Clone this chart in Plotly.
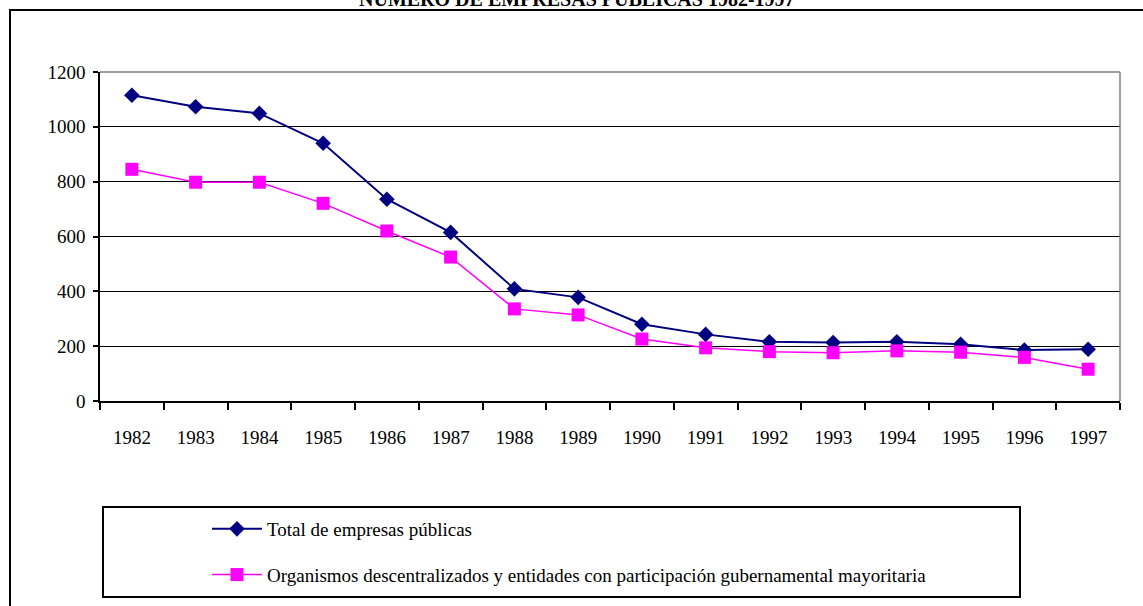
import plotly.graph_objects as go

years = ["1982", "1983", "1984", "1985", "1986", "1987", "1988", "1989",
         "1990", "1991", "1992", "1993", "1994", "1995", "1996", "1997"]
total_empresas = [1115, 1073, 1049, 940, 736, 615, 409, 378, 280, 243, 216, 213, 216, 207, 186, 189]
organismos = [845, 798, 798, 721, 620, 525, 336, 314, 226, 194, 180, 176, 183, 178, 159, 116]
y_ticks = [0, 200, 400, 600, 800, 1000, 1200]

title_text = "NÚMERO DE EMPRESAS PÚBLICAS 1982-1997"
name_total = "Total de empresas públicas"
name_org = "Organismos descentralizados y entidades con participación gubernamental mayoritaria"

W, H = 1143, 606
L, R, T, B = 100, 1120, 72, 401  # plot area in pixels


def px_x(p):
    return (p - L) / (R - L)


def px_y(p):
    return (B - p) / (B - T)


font_family = "Liberation Serif, Times New Roman, serif"

fig = go.Figure()
fig.add_trace(go.Scatter(
    x=years, y=total_empresas, name=name_total, mode="lines+markers",
    line=dict(color="#000080", width=2),
    marker=dict(symbol="diamond", size=12, color="#000080"),
    legendgroup="a",
))
fig.add_trace(go.Scatter(
    x=years, y=organismos, name=name_org, mode="lines+markers",
    line=dict(color="#FF00FF", width=1.5),
    marker=dict(symbol="square", size=13, color="#FF00FF"),
    legendgroup="b",
))

shapes = [
    # outer frame
    dict(type="rect", xref="paper", yref="paper",
         x0=px_x(10), x1=px_x(1160), y0=px_y(620), y1=px_y(10),
         line=dict(color="#000000", width=2), layer="below"),
    # plot area top and right borders (gray)
    dict(type="line", xref="paper", yref="paper", x0=0, x1=1, y0=1, y1=1,
         line=dict(color="#808080", width=1.5), layer="above"),
    dict(type="line", xref="paper", yref="paper", x0=1, x1=1, y0=0, y1=1,
         line=dict(color="#808080", width=1.5), layer="above"),
    # legend box
    dict(type="rect", xref="paper", yref="paper",
         x0=px_x(103), x1=px_x(1020), y0=px_y(597), y1=px_y(507),
         line=dict(color="#000000", width=2)),
]

fig.update_layout(
    width=W, height=H,
    margin=dict(l=L, r=W - R, t=T, b=H - B),
    paper_bgcolor="white", plot_bgcolor="white",
    font=dict(family=font_family, size=19, color="#000000"),
    shapes=shapes,
    showlegend=True,
    legend=dict(
        x=px_x(207), y=px_y(510), xanchor="left", yanchor="top",
        bgcolor="rgba(0,0,0,0)", borderwidth=0,
        font=dict(family=font_family, size=19, color="#000000"),
        traceorder="grouped", tracegroupgap=18,
        itemwidth=50,
    ),
    annotations=[dict(
        text="<b>" + title_text + "</b>", xref="paper", yref="paper",
        x=px_x(577), y=px_y(-2), xanchor="center", yanchor="middle",
        showarrow=False, font=dict(family=font_family, size=20, color="#000000"),
    )],
    xaxis=dict(
        type="category", categoryorder="array", categoryarray=years,
        range=[-0.5, len(years) - 0.5],
        tickson="boundaries", ticks="outside", ticklen=7, tickcolor="#000000", tickwidth=1.5,
        showline=True, linecolor="#000000", linewidth=1.5,
        showgrid=False, zeroline=False,
        ticklabelstandoff=18,
        tickfont=dict(family=font_family, size=19),
    ),
    yaxis=dict(
        range=[0, 1200], tickvals=y_ticks, ticktext=[str(v) for v in y_ticks],
        ticks="outside", ticklen=5, tickcolor="#000000", tickwidth=1.5,
        showline=True, linecolor="#000000", linewidth=1.5,
        showgrid=True, gridcolor="#000000", gridwidth=1.2,
        zeroline=False,
        ticklabelstandoff=4,
        tickfont=dict(family=font_family, size=19),
    ),
)

fig.write_html("out.html", config={"displayModeBar": False},
               post_script="document.body.style.margin='0';")
